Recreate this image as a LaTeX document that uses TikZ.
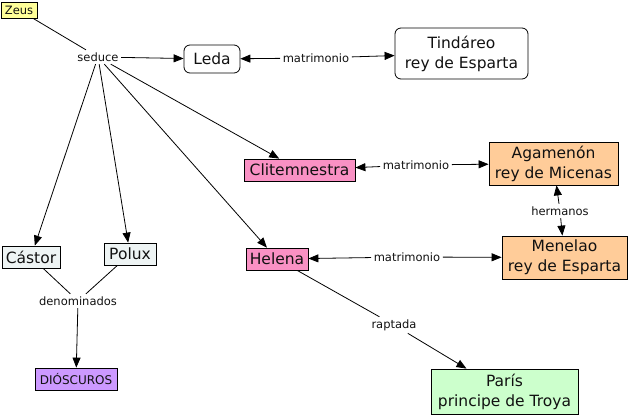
\documentclass[tikz,border=0pt]{standalone}
\usepackage{fontspec}
\setmainfont{DejaVu Sans}
\usetikzlibrary{arrows.meta}
\definecolor{zeusy}{HTML}{FFFF99}
\definecolor{pinkc}{HTML}{F991C4}
\definecolor{orangec}{HTML}{FFCC99}
\definecolor{greyc}{HTML}{EEF4F4}
\definecolor{purplec}{HTML}{CC99FF}
\definecolor{greenc}{HTML}{CCFFCC}
\definecolor{txt}{HTML}{111111}
\tikzset{
  box/.style={draw=black, line width=0.8pt, inner sep=0pt, text=txt, font=\fontsize{15.5}{20}\selectfont, align=center},
  rbox/.style={box, rounded corners=6pt},
  lbl/.style={inner sep=2.5pt, text=txt, font=\fontsize{11.5}{13}\selectfont},
  con/.style={draw=black, line width=0.8pt},
  arr/.style={con, -{Triangle[length=10pt,width=8pt]}},
}
\begin{document}
\begin{tikzpicture}[x=1pt,y=-1pt]
\useasboundingbox (0,0) rectangle (630,416);
% nodes
\node[box, fill=zeusy, minimum width=36pt, minimum height=16pt, font=\fontsize{11.5}{13}\selectfont] (zeus) at (19,10) {Zeus};
\node[lbl] (seduce) at (98,57) {seduce};
\node[rbox, minimum width=56pt, minimum height=28pt] (leda) at (212,59) {Leda};
\node[lbl] (m1) at (316,58) {matrimonio};
\node[rbox, minimum width=133pt, minimum height=51pt] (tind) at (461.5,53.5) {Tindáreo\\rey de Esparta};
\node[box, fill=pinkc, minimum width=111pt, minimum height=22pt] (clit) at (299.5,170) {Clitemnestra};
\node[lbl] (m2) at (416,165) {matrimonio};
\node[box, fill=orangec, minimum width=129pt, minimum height=43pt] (aga) at (553.5,163.5) {Agamenón\\rey de Micenas};
\node[lbl] (herm) at (560,211) {hermanos};
\node[box, fill=orangec, minimum width=125pt, minimum height=43pt] (mene) at (564.5,257.5) {Menelao\\rey de Esparta};
\node[box, fill=pinkc, minimum width=62pt, minimum height=22pt] (hel) at (277,259) {Helena};
\node[lbl] (m3) at (407,257) {matrimonio};
\node[box, fill=greyc, minimum width=58pt, minimum height=22pt] (cast) at (31,257) {Cástor};
\node[box, fill=greyc, minimum width=52pt, minimum height=22pt] (pol) at (130,254) {Polux};
\node[lbl] (den) at (78,301) {denominados};
\node[box, fill=purplec, minimum width=82pt, minimum height=22pt, font=\fontsize{12}{14}\selectfont] (dio) at (76,379) {DIÓSCUROS};
\node[lbl] (rap) at (394,325) {raptada};
\node[box, fill=greenc, minimum width=147pt, minimum height=45pt] (paris) at (504.5,391.5) {París\\principe de Troya};
% connectors
\draw[con] (zeus) -- (seduce);
\draw[arr] (seduce) -- (leda);
\draw[arr] (seduce) -- (clit);
\draw[arr] (seduce) -- (hel);
\draw[arr] (seduce) -- (cast);
\draw[arr] (seduce) -- (pol);
\draw[arr] (m1) -- (leda);
\draw[arr] (m1) -- (tind);
\draw[arr] (m2) -- (clit);
\draw[arr] (m2) -- (aga);
\draw[arr] (herm) -- (aga);
\draw[arr] (herm) -- (mene);
\draw[arr] (m3) -- (hel);
\draw[arr] (m3) -- (mene);
\draw[con] (cast) -- (den);
\draw[con] (pol) -- (den);
\draw[arr] (den) -- (dio);
\draw[con] (hel) -- (rap);
\draw[arr] (rap) -- (paris);
\end{tikzpicture}
\end{document}
